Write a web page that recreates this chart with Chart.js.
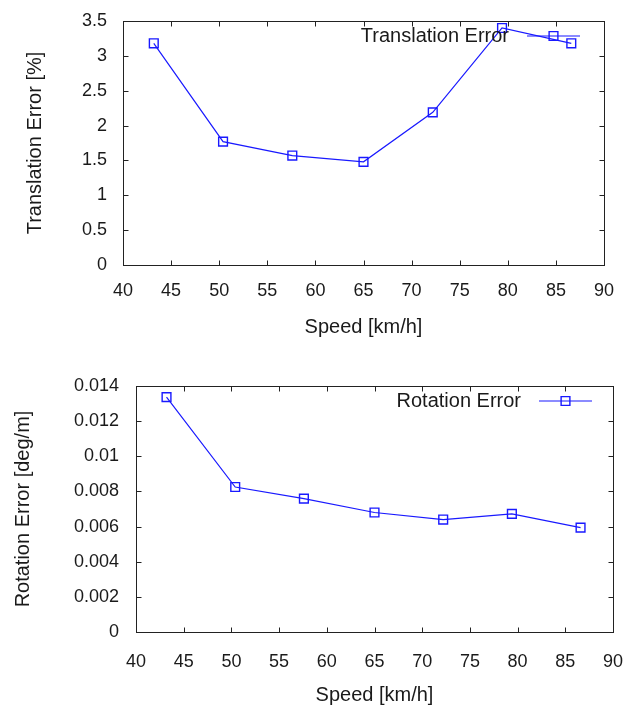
<!DOCTYPE html>
<html>
<head>
<meta charset="utf-8">
<script src="https://cdn.jsdelivr.net/npm/chart.js@4.4.1/dist/chart.umd.min.js"></script>
<style>
  html, body { margin: 0; padding: 0; background: #fff; }
  #wrap { position: relative; width: 636px; height: 709px; overflow: hidden; }
  #c1 { position: absolute; left: 0; top: 0; }
  #c2 { position: absolute; left: 0; top: 354px; }
</style>
</head>
<body>
<div id="wrap">
  <canvas id="c1" width="636" height="354"></canvas>
  <canvas id="c2" width="636" height="355"></canvas>
</div>
<script>
// ---- data ----
const speeds = [43.2, 50.4, 57.6, 65.0, 72.2, 79.4, 86.6];
const translationError = [3.18, 1.77, 1.57, 1.48, 2.19, 3.40, 3.18];
const rotationError = [0.01337, 0.00825, 0.00759, 0.0068, 0.0064, 0.00672, 0.00594];
const speedTicks = ['40', '45', '50', '55', '60', '65', '70', '75', '80', '85', '90'];
const transTicks = ['0', '0.5', '1', '1.5', '2', '2.5', '3', '3.5'];
const rotTicks = ['0', '0.002', '0.004', '0.006', '0.008', '0.01', '0.012', '0.014'];

const FONT = "'Liberation Sans', Arial, Helvetica, sans-serif";
const TEXT = '#1a1a1a';
const BLUE = 'rgb(25,25,255)';

const framePlugin = {
  id: 'frame',
  beforeDatasetsDraw(chart) {
    const { ctx, chartArea: a, scales: { x, y } } = chart;
    ctx.save();
    ctx.strokeStyle = '#222';
    ctx.lineWidth = 1;
    const L = 5;
    const l = Math.round(a.left) + 0.5, r = Math.round(a.right) + 0.5;
    const t = Math.round(a.top) + 0.5, b = Math.round(a.bottom) + 0.5;
    ctx.strokeRect(l, t, r - l, b - t);
    ctx.beginPath();
    x.ticks.forEach(tk => {
      const px = Math.round(x.getPixelForValue(tk.value)) + 0.5;
      ctx.moveTo(px, b); ctx.lineTo(px, b - L);
      ctx.moveTo(px, t); ctx.lineTo(px, t + L);
    });
    y.ticks.forEach(tk => {
      const py = Math.round(y.getPixelForValue(tk.value)) + 0.5;
      ctx.moveTo(l, py); ctx.lineTo(l + L, py);
      ctx.moveTo(r, py); ctx.lineTo(r - L, py);
    });
    ctx.stroke();
    ctx.restore();
  }
};

const keyPlugin = {
  id: 'key',
  afterDatasetsDraw(chart, args, opts) {
    const { ctx, chartArea: a } = chart;
    const ds = chart.data.datasets[0];
    const lineEnd = a.right - opts.right;
    const lineStart = lineEnd - opts.len;
    const yy = a.top + opts.top;
    ctx.save();
    ctx.font = '20px ' + FONT;
    ctx.fillStyle = TEXT;
    ctx.textAlign = 'right';
    ctx.textBaseline = 'middle';
    ctx.fillText(ds.label, lineStart - opts.gap, yy);
    ctx.strokeStyle = ds.borderColor;
    ctx.lineWidth = ds.borderWidth;
    ctx.beginPath();
    ctx.moveTo(lineStart, yy); ctx.lineTo(lineEnd, yy);
    ctx.stroke();
    ctx.lineWidth = ds.pointBorderWidth;
    ctx.fillStyle = 'rgba(0,0,0,0)';
    ctx.strokeStyle = ds.pointBorderColor;
    Chart.helpers.drawPoint(ctx, { pointStyle: 'rect', radius: ds.pointRadius, borderWidth: ds.pointBorderWidth, rotation: 0 },
      (lineStart + lineEnd) / 2, yy);
    ctx.restore();
  }
};

function makeChart(id, label, values, yMax, yStep, yLabels, yTitle, cfg) {
  return new Chart(document.getElementById(id), {
    type: 'line',
    data: {
      datasets: [{
        label: label,
        data: speeds.map((s, i) => ({ x: s, y: values[i] })),
        borderColor: BLUE,
        borderWidth: 1.2,
        pointStyle: 'rect',
        pointRadius: 6.2,
        pointBorderWidth: 1.4,
        pointBorderColor: BLUE,
        pointBackgroundColor: 'rgba(0,0,0,0)',
        fill: false,
        tension: 0
      }]
    },
    options: {
      responsive: false,
      animation: false,
      layout: { padding: { left: 0, top: cfg.top, right: cfg.right, bottom: 0 } },
      plugins: {
        legend: { display: false },
        tooltip: { enabled: false },
        key: { right: cfg.keyRight, len: 53, gap: 18, top: 15 }
      },
      scales: {
        x: {
          type: 'linear',
          min: 40, max: 90,
          afterFit(s) { s.height = cfg.xHeight; s.paddingLeft = 0; s.paddingRight = 0; },
          grid: { display: false, drawTicks: false },
          border: { display: false },
          ticks: {
            stepSize: 5,
            padding: cfg.xPad,
            color: TEXT,
            font: { family: FONT, size: 18 },
            maxRotation: 0,
            autoSkip: false,
            callback: (v) => speedTicks[Math.round((v - 40) / 5)]
          },
          title: {
            display: true, text: 'Speed [km/h]', color: TEXT,
            font: { family: FONT, size: 20 },
            padding: { top: 0, bottom: cfg.xTitlePad }
          }
        },
        y: {
          type: 'linear',
          min: 0, max: yMax,
          afterFit(s) { s.width = cfg.yWidth; s.paddingTop = 0; s.paddingBottom = 0; },
          grid: { display: false, drawTicks: false },
          border: { display: false },
          ticks: {
            stepSize: yStep,
            padding: cfg.yPad,
            color: TEXT,
            font: { family: FONT, size: 18 },
            autoSkip: false,
            callback: (v) => yLabels[Math.round(v / yStep)]
          },
          title: {
            display: true, text: yTitle, color: TEXT,
            font: { family: FONT, size: 20 },
            padding: { top: cfg.yTitlePad, bottom: 0 }
          }
        }
      }
    },
    plugins: [framePlugin, keyPlugin]
  });
}

makeChart('c1', 'Translation Error', translationError, 3.5, 0.5, transTicks, 'Translation Error [%]',
  { top: 21, right: 32, xHeight: 89, yWidth: 123, xPad: 15, yPad: 16, xTitlePad: 15, yTitlePad: 23, keyRight: 24 });
makeChart('c2', 'Rotation Error', rotationError, 0.014, 0.002, rotTicks, 'Rotation Error [deg/m]',
  { top: 32, right: 23, xHeight: 77, yWidth: 136, xPad: 19, yPad: 17, xTitlePad: 2, yTitlePad: 11, keyRight: 21 });
</script>
</body>
</html>
